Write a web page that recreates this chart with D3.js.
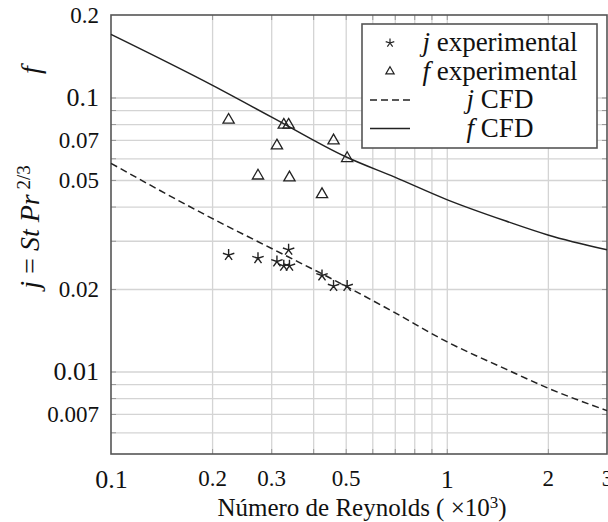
<!DOCTYPE html>
<html>
<head>
<meta charset="utf-8">
<script src="https://cdn.jsdelivr.net/npm/d3@7"></script>
<style>
  body { margin: 0; background: #fff; }
  svg { font-family: "Liberation Serif", "Times New Roman", Times, serif; }
</style>
</head>
<body>
<svg id="chart" width="608" height="522"></svg>
<script>
// experimental points (Re x10^3)
const jExpRe = [0.224, 0.274, 0.312, 0.327, 0.338, 0.34, 0.425, 0.46, 0.505];
const jExp = [0.0266, 0.0259, 0.0252, 0.0243, 0.0278, 0.0243, 0.0224, 0.0205, 0.0205];
const fExpRe = [0.224, 0.274, 0.312, 0.327, 0.338, 0.34, 0.425, 0.46, 0.505];
const fExp = [0.0828, 0.0518, 0.0667, 0.0794, 0.0794, 0.051, 0.0443, 0.0696, 0.06];

// CFD curves
const jCfdRe = [0.1, 0.2, 0.31, 0.5, 0.7, 1, 1.5, 2, 3];
const jCfd = [0.0575, 0.0362, 0.0276, 0.0205, 0.0164, 0.01285, 0.0102, 0.0087, 0.0072];
const fCfdRe = [0.1, 0.2, 0.3, 0.5, 0.7, 1, 1.5, 2, 3];
const fCfd = [0.17, 0.111, 0.085, 0.0608, 0.0512, 0.0424, 0.0354, 0.0315, 0.0278];

// ticks
const xTicks = [0.1, 0.2, 0.3, 0.5, 1, 2, 3];
const xTickLabels = ["0.1", "0.2", "0.3", "0.5", "1", "2", "3"];
const yTicks = [0.007, 0.01, 0.02, 0.05, 0.07, 0.1, 0.2];
const yTickLabels = ["0.007", "0.01", "0.02", "0.05", "0.07", "0.1", "0.2"];
const xGrid = [0.2, 0.3, 0.4, 0.5, 0.6, 0.7, 0.8, 0.9, 1, 2];
const yGrid = [0.006, 0.007, 0.008, 0.009, 0.01, 0.02, 0.03, 0.04, 0.05, 0.06, 0.07, 0.08, 0.09, 0.1];

const legendNames = ["j experimental", "f experimental", "j CFD", "f CFD"];

var margin = {top: 15, right: 1, bottom: 68, left: 111},
    width = 608 - margin.left - margin.right,
    height = 522 - margin.top - margin.bottom;

var svg = d3.select("#chart")
  .append("g")
  .attr("transform", "translate(" + margin.left + "," + margin.top + ")");

var x = d3.scaleLog().domain([0.1, 3]).range([0, width]);
var y = d3.scaleLog().domain([0.005, 0.2]).range([height, 0]);

// grid
svg.append("g")
  .attr("transform", "translate(0," + height + ")")
  .call(d3.axisBottom(x).tickValues(xGrid).tickSize(-height).tickFormat(""))
  .call(g => g.select(".domain").remove())
  .call(g => g.selectAll("line").attr("stroke", "#d4d4d4").attr("stroke-width", 1.3));
svg.append("g")
  .call(d3.axisLeft(y).tickValues(yGrid).tickSize(-width).tickFormat(""))
  .call(g => g.select(".domain").remove())
  .call(g => g.selectAll("line").attr("stroke", "#d4d4d4").attr("stroke-width", 1.3));

// small inward ticks on all sides
function tickStyle(g) {
  g.select(".domain").remove();
  g.selectAll("line").attr("stroke", "#999").attr("stroke-width", 1);
}
svg.append("g").attr("transform", "translate(0," + height + ")")
  .call(d3.axisBottom(x).tickValues(xGrid).tickSize(-5).tickFormat("")).call(tickStyle);
svg.append("g")
  .call(d3.axisTop(x).tickValues(xGrid).tickSize(-5).tickFormat("")).call(tickStyle);
svg.append("g")
  .call(d3.axisLeft(y).tickValues(yGrid).tickSize(-5).tickFormat("")).call(tickStyle);
svg.append("g").attr("transform", "translate(" + width + ",0)")
  .call(d3.axisRight(y).tickValues(yGrid).tickSize(-5).tickFormat("")).call(tickStyle);

// tick labels
svg.append("g")
  .attr("transform", "translate(0," + height + ")")
  .call(d3.axisBottom(x).tickValues(xTicks).tickSize(0)
    .tickFormat((d, i) => xTickLabels[i]))
  .call(g => g.select(".domain").remove())
  .call(g => g.selectAll("text")
    .attr("y", 16)
    .attr("fill", "#111")
    .style("font-family", "'Liberation Serif', 'Times New Roman', serif")
    .style("font-size", d => (d === 0.1 || d === 1) ? "26px" : "23px"));

svg.append("g")
  .call(d3.axisLeft(y).tickValues(yTicks).tickSize(0).tickPadding(12)
    .tickFormat((d, i) => yTickLabels[i]))
  .call(g => g.select(".domain").remove())
  .call(g => g.selectAll("text")
    .attr("fill", "#111")
    .style("font-family", "'Liberation Serif', 'Times New Roman', serif")
    .style("font-size", d => (d === 0.1 || d === 0.01) ? "26px" : "23px"));

// frame
svg.append("rect")
  .attr("width", width).attr("height", height)
  .attr("fill", "none").attr("stroke", "#555").attr("stroke-width", 1.6);

// curves
var line = d3.line()
  .x(d => x(d[0]))
  .y(d => y(d[1]))
  .curve(d3.curveMonotoneX);

svg.append("path")
  .datum(d3.zip(fCfdRe, fCfd))
  .attr("d", line)
  .attr("fill", "none").attr("stroke", "#222").attr("stroke-width", 1.5);

svg.append("path")
  .datum(d3.zip(jCfdRe, jCfd))
  .attr("d", line)
  .attr("fill", "none").attr("stroke", "#222").attr("stroke-width", 1.5)
  .attr("stroke-dasharray", "7,4");

// markers
function starPath(r) {
  var p = "";
  for (var k = 0; k < 5; k++) {
    var a = -Math.PI / 2 + k * 2 * Math.PI / 5;
    p += "M0,0L" + (r * Math.cos(a)).toFixed(2) + "," + (r * Math.sin(a)).toFixed(2);
  }
  return p;
}
function triPath(r) {
  var p = [];
  for (var k = 0; k < 3; k++) {
    var a = -Math.PI / 2 + k * 2 * Math.PI / 3;
    p.push((r * Math.cos(a)).toFixed(2) + "," + (r * Math.sin(a)).toFixed(2));
  }
  return "M" + p.join("L") + "Z";
}

svg.selectAll(".tri")
  .data(d3.zip(fExpRe, fExp))
  .enter().append("path")
  .attr("class", "tri")
  .attr("transform", d => "translate(" + x(d[0]) + "," + y(d[1]) + ")")
  .attr("d", triPath(6.5))
  .attr("fill", "none").attr("stroke", "#222").attr("stroke-width", 1.3);

svg.selectAll(".star")
  .data(d3.zip(jExpRe, jExp))
  .enter().append("path")
  .attr("class", "star")
  .attr("transform", d => "translate(" + x(d[0]) + "," + y(d[1]) + ")")
  .attr("d", starPath(6))
  .attr("fill", "none").attr("stroke", "#222").attr("stroke-width", 1.4);

// legend
var legend = svg.append("g").attr("transform", "translate(" + (362 - margin.left) + "," + (24 - margin.top) + ")");
legend.append("rect")
  .attr("width", 235).attr("height", 124)
  .attr("fill", "#fff").attr("stroke", "#555").attr("stroke-width", 1.6);

var rows = legend.selectAll(".row")
  .data(legendNames)
  .enter().append("g")
  .attr("transform", (d, i) => "translate(0," + (19 + i * 28.5) + ")");

rows.each(function(d, i) {
  var g = d3.select(this);
  if (i === 0) g.append("path").attr("transform", "translate(28,0)").attr("d", starPath(4.5))
    .attr("fill", "none").attr("stroke", "#222").attr("stroke-width", 1.2);
  if (i === 1) g.append("path").attr("transform", "translate(28,0)").attr("d", triPath(4.8))
    .attr("fill", "none").attr("stroke", "#222").attr("stroke-width", 1.2);
  if (i === 2) g.append("line").attr("x1", 8).attr("x2", 48)
    .attr("stroke", "#222").attr("stroke-width", 1.4).attr("stroke-dasharray", "7,4");
  if (i === 3) g.append("line").attr("x1", 8).attr("x2", 48)
    .attr("stroke", "#222").attr("stroke-width", 1.4);

  var parts = d.split(" ");
  var t = g.append("text")
    .attr("x", 138).attr("y", 8)
    .attr("text-anchor", "middle")
    .style("font-size", "27px").attr("fill", "#111");
  t.append("tspan").style("font-style", "italic").text(parts[0]);
  t.append("tspan").text(" " + parts.slice(1).join(" "));
});

// axis titles
var title = d3.select("#chart").append("text")
  .attr("x", 362).attr("y", 516)
  .attr("text-anchor", "middle")
  .style("font-size", "25px").attr("fill", "#111");
title.append("tspan").text("Número de Reynolds ( \u00d710");
title.append("tspan").attr("dy", "-0.45em").style("font-size", "17px").text("3");
title.append("tspan").attr("dy", "0.3em").text(")");

d3.select("#chart").append("text")
  .attr("transform", "translate(40,70) rotate(-90)")
  .attr("text-anchor", "middle")
  .style("font-size", "28px").style("font-style", "italic").attr("fill", "#111")
  .text("f");

var jl = d3.select("#chart").append("text")
  .attr("transform", "translate(39,227) rotate(-90)")
  .attr("text-anchor", "middle")
  .style("font-size", "28px").attr("fill", "#111");
jl.append("tspan").style("font-style", "italic").text("j");
jl.append("tspan").text(" = ");
jl.append("tspan").style("font-style", "italic").text("St Pr");
jl.append("tspan").attr("dy", "-0.45em").style("font-size", "19px").text(" 2/3");
</script>
</body>
</html>
